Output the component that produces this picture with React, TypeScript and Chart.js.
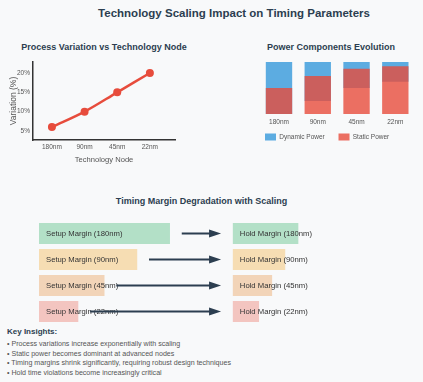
import React, { useEffect, useRef } from 'react';
import { Chart, registerables } from 'chart.js';

Chart.register(...registerables);

const FONT = '"Liberation Sans", Arial, Helvetica, sans-serif';
Chart.defaults.font.family = FONT;

// ---- Process variation ----
const nodes = ['180nm', '90nm', '45nm', '22nm'];
const variationPct = [6, 10, 15, 20];
const variationTicks = [5, 10, 15, 20];

// ---- Power components (bar ranges, % of total height) ----
const powerNodes = ['180nm', '90nm', '45nm', '22nm'];
const dynamicPowerLow = [0, 25, 50, 62];
const dynamicPowerHigh = [100, 100, 100, 100];
const staticPowerLow = [0, 0, 0, 0];
const staticPowerHigh = [50, 73, 87, 92];

// ---- Timing margins ----
const marginNodes = ['180nm', '90nm', '45nm', '22nm'];
const setupMargin = [100, 75, 50, 30];
const holdMargin = [50, 40, 30, 20];
const holdStart = 148;
const ARROW_GAP = 9;
const marginColors = [
  'rgba(39,174,96,0.33)',
  'rgba(243,156,18,0.3)',
  'rgba(230,126,34,0.3)',
  'rgba(231,76,60,0.3)',
];

const insights = [
  '• Process variations increase exponentially with scaling',
  '• Static power becomes dominant at advanced nodes',
  '• Timing margins shrink significantly, requiring robust design techniques',
  '• Hold time violations become increasingly critical',
];

const timingPlugin = {
  id: 'timingLabels',
  afterDatasetsDraw(chart: any) {
    const ctx = chart.ctx;
    const xs = chart.scales.x;
    const setupMeta = chart.getDatasetMeta(0);
    const holdMeta = chart.getDatasetMeta(1);
    ctx.save();
    ctx.font = `7.7px ${FONT}`;
    ctx.fillStyle = '#333';
    ctx.textBaseline = 'middle';
    ctx.textAlign = 'left';
    marginNodes.forEach((n, i) => {
      ctx.fillText(`Setup Margin (${n})`, xs.getPixelForValue(0) + 7, setupMeta.data[i].y);
      ctx.fillText(`Hold Margin (${n})`, xs.getPixelForValue(holdStart) + 7, holdMeta.data[i].y);
    });
    ctx.strokeStyle = '#2c3e50';
    ctx.fillStyle = '#2c3e50';
    ctx.lineWidth = 1.8;
    marginNodes.forEach((n, i) => {
      const y = setupMeta.data[i].y;
      const x0 = xs.getPixelForValue(setupMargin[i] + ARROW_GAP);
      const x1 = xs.getPixelForValue(holdStart - ARROW_GAP);
      ctx.beginPath();
      ctx.moveTo(x0, y);
      ctx.lineTo(x1 - 8, y);
      ctx.stroke();
      ctx.beginPath();
      ctx.moveTo(x1, y);
      ctx.lineTo(x1 - 12, y - 4);
      ctx.lineTo(x1 - 12, y + 4);
      ctx.closePath();
      ctx.fill();
    });
    ctx.restore();
  },
};

// nudges the legend box up so it sits closer to the tick labels
const legendNudge = {
  id: 'legendNudge',
  afterLayout(chart: any) {
    const l = chart.legend;
    if (l) {
      l.top -= 8.25;
      l.bottom -= 8.25;
    }
  },
};

function ChartBox({ make, left, top, width, height }: any) {
  const ref = useRef<HTMLCanvasElement>(null);
  useEffect(() => {
    const chart = new Chart(ref.current as HTMLCanvasElement, make());
    return () => chart.destroy();
  }, []);
  return (
    <canvas
      ref={ref}
      width={width}
      height={height}
      style={{ position: 'absolute', left, top, width, height }}
    />
  );
}

function Label({ x, y, size, bold, color, center, children }: any) {
  const style: any = {
    position: 'absolute',
    top: y - size / 2,
    fontSize: size,
    lineHeight: `${size}px`,
    fontWeight: bold ? 'bold' : 'normal',
    color,
    whiteSpace: 'nowrap',
    fontFamily: FONT,
  };
  if (center) {
    style.left = x - 200;
    style.width = 400;
    style.textAlign = 'center';
  } else {
    style.left = x;
  }
  return <div style={style}>{children}</div>;
}

const makeVariation = () => ({
  type: 'line',
  data: {
    datasets: [
      {
        label: 'Variation',
        data: variationPct.map((v, i) => ({ x: i, y: v })),
        borderColor: '#e74c3c',
        backgroundColor: '#e74c3c',
        borderWidth: 2.5,
        pointRadius: 4,
        pointHoverRadius: 4,
        pointBorderWidth: 0,
        tension: 0.35,
        fill: false,
      },
    ],
  },
  options: {
    responsive: false,
    animation: false,
    layout: { padding: { left: 0, top: 7, right: 25, bottom: 0 } },
    plugins: { legend: { display: false }, tooltip: { enabled: false } },
    scales: {
      x: {
        type: 'linear',
        min: -0.58,
        max: 3.77,
        grid: { display: false, drawTicks: false },
        border: { color: '#333', width: 1.5 },
        afterBuildTicks: (s: any) => {
          s.ticks = nodes.map((_, i) => ({ value: i }));
        },
        afterFit: (s: any) => {
          s.height = 35;
        },
        ticks: {
          padding: 3,
          color: '#555',
          font: { size: 6.5 },
          maxRotation: 0,
          minRotation: 0,
          autoSkip: false,
          callback: (v: any) => nodes[v] ?? '',
        },
        title: {
          display: true,
          text: 'Technology Node',
          color: '#555',
          font: { size: 7.6 },
          padding: { top: 0, bottom: 10.1 },
        },
      },
      y: {
        min: 2.67,
        max: 22.84,
        grid: { display: false, drawTicks: false },
        border: { color: '#333', width: 1.5 },
        afterBuildTicks: (s: any) => {
          s.ticks = variationTicks.map((v) => ({ value: v }));
        },
        afterFit: (s: any) => {
          s.width = 33;
        },
        ticks: {
          padding: 3,
          color: '#555',
          font: { size: 6.5 },
          callback: (v: any) => `${v}%`,
        },
        title: {
          display: true,
          text: 'Variation (%)',
          color: '#555',
          font: { size: 8.5 },
          padding: { top: 8.4, bottom: 0 },
        },
      },
    },
  },
});

const makePower = () => ({
  type: 'bar',
  data: {
    labels: powerNodes,
    datasets: [
      {
        label: 'Dynamic Power',
        data: powerNodes.map((_, i) => [dynamicPowerLow[i], dynamicPowerHigh[i]]),
        backgroundColor: 'rgba(52,152,219,0.8)',
        order: 1,
      },
      {
        label: 'Static Power',
        data: powerNodes.map((_, i) => [staticPowerLow[i], staticPowerHigh[i]]),
        backgroundColor: 'rgba(231,76,60,0.8)',
        order: 0,
      },
    ],
  },
  options: {
    responsive: false,
    animation: false,
    datasets: { bar: { grouped: false, barPercentage: 0.68, categoryPercentage: 1 } },
    layout: { padding: { left: 1.25, right: 8.3, top: 7, bottom: 0.25 } },
    plugins: {
      tooltip: { enabled: false },
      legend: {
        position: 'bottom',
        align: 'start',
        reverse: true,
        labels: {
          boxWidth: 11,
          boxHeight: 7,
          padding: 13.75,
          color: '#555',
          font: { size: 6.5 },
        },
      },
    },
    scales: {
      x: {
        grid: { display: false, drawTicks: false },
        border: { display: false },
        ticks: {
          padding: 4.4,
          color: '#555',
          font: { size: 6.5 },
          maxRotation: 0,
          minRotation: 0,
          autoSkip: false,
        },
        afterFit: (s: any) => {
          s.height = 14;
        },
      },
      y: {
        min: 0,
        max: 100,
        ticks: { display: false },
        grid: { display: false, drawTicks: false },
        border: { display: false },
        afterFit: (s: any) => {
          s.width = 8.35;
        },
      },
    },
  },
  plugins: [legendNudge],
});

const makeTiming = () => ({
  type: 'bar',
  data: {
    labels: marginNodes,
    datasets: [
      {
        label: 'Setup Margin',
        data: setupMargin.map((v) => [0, v]),
        backgroundColor: marginColors,
      },
      {
        label: 'Hold Margin',
        data: holdMargin.map((v) => [holdStart, holdStart + v]),
        backgroundColor: marginColors,
      },
    ],
  },
  options: {
    indexAxis: 'y',
    responsive: false,
    animation: false,
    datasets: { bar: { grouped: false, barPercentage: 0.81, categoryPercentage: 1 } },
    layout: { padding: { left: 39, right: 33, top: 8.5, bottom: 2.5 } },
    plugins: { legend: { display: false }, tooltip: { enabled: false } },
    scales: {
      x: { display: false, min: 0, max: 268 },
      y: { display: false },
    },
  },
  plugins: [timingPlugin],
});

export default function App() {
  return (
    <div
      style={{
        position: 'absolute',
        left: 0,
        top: 0,
        width: 423,
        height: 382,
        background: '#f8f9fa',
        overflow: 'hidden',
        fontFamily: FONT,
      }}
    >
      <Label x={234} y={13.5} size={11.5} bold color="#2c3e50" center>
        Technology Scaling Impact on Timing Parameters
      </Label>
      <Label x={104} y={47.3} size={9} bold color="#2c3e50" center>
        Process Variation vs Technology Node
      </Label>
      <Label x={331} y={47.3} size={9} bold color="#2c3e50" center>
        Power Components Evolution
      </Label>
      <Label x={201.5} y={201.7} size={9} bold color="#2c3e50" center>
        Timing Margin Degradation with Scaling
      </Label>
      <ChartBox make={makeVariation} left={0} top={55} width={200} height={120} />
      <ChartBox make={makePower} left={250} top={55} width={173} height={104} />
      <ChartBox make={makeTiming} left={0} top={212} width={423} height={115} />
      <Label x={7} y={331.7} size={8} bold color="#2c3e50">
        Key Insights:
      </Label>
      {insights.map((t, i) => (
        <Label key={i} x={7} y={344.7 + i * 9.55} size={7.1} color="#555">
          {t}
        </Label>
      ))}
    </div>
  );
}
